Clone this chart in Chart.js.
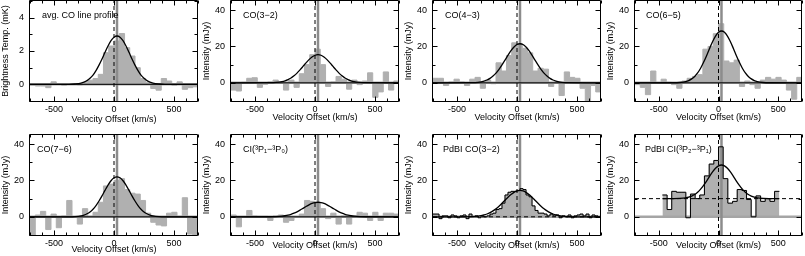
<!DOCTYPE html>
<html><head><meta charset="utf-8">
<script src="https://cdn.jsdelivr.net/npm/chart.js@4.4.1/dist/chart.umd.min.js"></script>
<style>
html,body{margin:0;padding:0;background:#fff}
#wrap{position:relative;width:805px;height:256px;overflow:hidden;background:#fff}
#wrap canvas{position:absolute}
</style></head><body><div id="wrap"></div>
<script>
// ---------------- DATA ----------------
// bin edges (km/s) of the single-dish spectra
const binEdges = [-700, -656, -613, -569, -525, -481, -438, -394, -350, -306, -263, -219, -175, -131, -88, -44, 0, 44, 88, 131, 175, 219, 263, 306, 350, 394, 438, 481, 525, 569, 613, 656, 700];
const pdbiCOEdges = [-700, -675, -650, -625, -600, -575, -550, -525, -500, -475, -450, -425, -400, -375, -350, -325, -300, -275, -250, -225, -200, -175, -150, -125, -100, -75, -50, -25, 0, 25, 50, 75, 100, 125, 150, 175, 200, 225, 250, 275, 300, 325, 350, 375, 400, 425, 450, 475, 500, 525, 550, 575, 600, 625, 650, 675, 700];
const pdbiCIEdges = [-470, -431, -392, -353, -314, -274, -235, -196, -157, -118, -78, -39, 0, 39, 78, 118, 157, 196, 235, 274, 314, 353, 392, 431, 470, 510];

// channel values
const avgCO = [-0.05, -0.1, -0.1, -0.2, 0.15, 0.0, -0.05, 0.0, 0.02, -0.03, 0.1, 0.25, 0.35, 0.6, 1.9, 2.3, 2.6, 3.05, 2.2, 1.7, 1.0, 0.35, 0.1, -0.25, -0.35, 0.35, 0.2, -0.05, 0.15, -0.3, -0.2, -0.15];
const co32 = [-4, -4.5, 0.3, 2.5, 2.8, -2.5, -0.8, 0.5, 1.5, 0.5, -4, 1.5, -2.5, 5, 10, 15.5, 18.5, 10, -2, 0.5, 3.5, 2, -3.5, 1.5, -1, 1, 5.5, -8, -5, 6, -4, 1];
const co43 = [2.5, 2.5, -1.5, 0.5, 2, 0.5, -1.5, 2, 3, -3, 1.5, -0.5, 11, 6.5, 15, 22, 21.5, 19, 16.5, 6.5, 8, 7.5, -2, 0.5, -7, 6, 3, 2.5, -3, -10, -1.5, -5];
const co65 = [-1, -2.5, -6.5, 6.5, 0, 2, 0.3, -1, -3, 1, 2.5, 3.5, 4.5, 18.5, 20, 27, 32.5, 12, 11, 12.5, -2, 1, -1, -3, 1.5, 3, 2, 3, 1.5, -4, -9, 3];
const co76 = [-10, 1, 3, -7, 1.5, -6, 0.5, 9, 0, -4, 4.5, 0.3, 2.5, 8, 17, 18, 20, 21, 15, 13, 12.5, 9, 2, -3, -4.5, -5, 2, 2.5, 0.3, 10.5, -9.5, -10];
const ci10 = [1, -5.5, 0, 3.5, 0.5, 0.3, 0.3, -2, 0.5, 1, -3, -2, 0, 1.5, 9, 8.5, 8, 4.5, -1, 2, -4, 0.5, -4, 0.5, 2.5, 2, -2, 2.5, -2, 2, 2, 1.5];
const pdbiCO32 = [1.5, 1.5, -1, 0.5, 0.5, -0.5, 1, 0.5, -0.5, 0.5, 1, -1, 1.5, 0, 0.5, -0.5, 0.5, 0, 0.5, 1.5, 2, 4, 4.5, 7.5, 12, 13.5, 14, 14, 14.5, 15.5, 15, 12, 11, 6, 3.5, 2, 2, 1.5, 0.5, 1.5, 0.5, 1, -0.5, 0.5, 0, 1, -0.5, 0.5, 1, 1.5, 0.5, 1.5, -0.5, 1, 0.5, 0];
const pdbiCI21 = [12, 4, 14, 13.5, 13.5, -0.5, 12.5, 10, 12, 22.5, 29, 31, 38.5, 21, 7.5, 8.5, 15, 14.5, 9.5, 0, 11.5, 8.5, 10, 8.5, 14];

// Gaussian fit curves
const fitV  = [-700, -375, -325, -275, -250, -225, -200, -175, -150, -125, -100, -75, -50, -25, 0, 25, 50, 75, 100, 125, 150, 175, 200, 225, 250, 275, 300, 325, 375, 425, 700];
const fitV8 = [-470, -375, -325, -275, -250, -225, -200, -175, -150, -125, -100, -75, -50, -25, 0, 25, 50, 75, 100, 125, 150, 175, 200, 225, 250, 275, 300, 325, 375, 425, 510];
const fitAvg  = [0, 0, 0.02, 0.07, 0.13, 0.22, 0.36, 0.55, 0.82, 1.15, 1.52, 1.92, 2.30, 2.62, 2.83, 2.90, 2.83, 2.62, 2.30, 1.92, 1.52, 1.15, 0.82, 0.55, 0.36, 0.22, 0.13, 0.07, 0.02, 0, 0];
const fitCO32 = [0, 0.06, 0.22, 0.68, 1.12, 1.77, 2.67, 3.86, 5.35, 7.10, 9.01, 10.96, 12.76, 14.21, 15.17, 15.5, 15.17, 14.21, 12.76, 10.96, 9.01, 7.10, 5.35, 3.86, 2.67, 1.77, 1.12, 0.68, 0.22, 0.06, 0];
const fitCO43 = [0, 0.09, 0.30, 0.95, 1.55, 2.45, 3.70, 5.35, 7.42, 9.85, 12.49, 15.20, 17.69, 19.72, 21.05, 21.5, 21.05, 19.72, 17.69, 15.20, 12.49, 9.85, 7.42, 5.35, 3.70, 2.45, 1.55, 0.95, 0.30, 0.09, 0];
const fitCO65 = [0, 0.03, 0.17, 0.68, 1.25, 2.17, 3.51, 5.44, 8.04, 11.26, 14.93, 18.87, 22.60, 25.71, 27.79, 28.5, 27.79, 25.71, 22.60, 18.87, 14.93, 11.26, 8.04, 5.44, 3.51, 2.17, 1.25, 0.68, 0.17, 0.03, 0];
const fitCO76 = [0, 0.02, 0.13, 0.53, 0.97, 1.67, 2.71, 4.20, 6.20, 8.69, 11.53, 14.56, 17.45, 19.84, 21.45, 22, 21.45, 19.84, 17.45, 14.56, 11.53, 8.69, 6.20, 4.20, 2.71, 1.67, 0.97, 0.53, 0.13, 0.02, 0];
const fitCI10 = [0, 0.03, 0.11, 0.35, 0.58, 0.91, 1.38, 1.99, 2.76, 3.66, 4.65, 5.66, 6.58, 7.34, 7.83, 8, 7.83, 7.34, 6.58, 5.66, 4.65, 3.66, 2.76, 1.99, 1.38, 0.91, 0.58, 0.35, 0.11, 0.03, 0];
const fitPdbiCO = [0, 0.13, 0.39, 1.02, 1.55, 2.28, 3.25, 4.44, 5.86, 7.45, 9.14, 10.79, 12.28, 13.47, 14.24, 14.5, 14.24, 13.47, 12.28, 10.79, 9.14, 7.45, 5.86, 4.44, 3.25, 2.28, 1.55, 1.02, 0.39, 0.13, 0];
const fitPdbiCI = [10, 10.02, 10.11, 10.44, 10.81, 11.41, 12.28, 13.53, 15.22, 17.31, 19.69, 22.25, 24.67, 26.69, 28.04, 28.5, 28.04, 26.69, 24.67, 22.25, 19.69, 17.31, 15.22, 13.53, 12.28, 11.41, 10.81, 10.44, 10.11, 10.02, 10];

// tick labels
const xTicks = [-500, 0, 500];
const yTicksMK = [0, 2, 4];
const yTicksMJy = [0, 20, 40];

// reference velocities / levels
const systemicV = 0;       // dashed vertical line
const lineCentreV = 25;    // grey vertical line
const pdbiContinuum = 10;  // continuum level of PdBI CI(2-1)

const panelLabels = ['avg. CO line profile', 'CO(3\u22122)', 'CO(4\u22123)', 'CO(6\u22125)', 'CO(7\u22126)', 'CI(\u00B3P\u2081\u2212\u00B3P\u2080)', 'PdBI CO(3\u22122)', 'PdBI CI(\u00B3P\u2082\u2212\u00B3P\u2081)'];

// ---------------- CHARTS ----------------
Chart.defaults.font.family = "'Liberation Sans', Arial, Helvetica, sans-serif";
Chart.defaults.font.size = 9;
Chart.defaults.color = '#000';

const FILL = 'rgb(176,176,176)';
const GREY_LINE = 'rgb(140,140,140)';
const GREY_ZERO = 'rgb(165,165,165)';

const panels = [
  {edges: binEdges, hist: avgCO, fitX: fitV, fit: fitAvg, y: [-1, 5], yTicks: yTicksMK, yMinor: 1, yMajor: 2, yTitle: 'Brightness Temp. (mK)', base: 0, pdbi: false, dx: 12},
  {edges: binEdges, hist: co32, fitX: fitV, fit: fitCO32, y: [-10, 45], yTicks: yTicksMJy, yMinor: 10, yMajor: 20, yTitle: 'Intensity (mJy)', base: 0, pdbi: false, dx: 12},
  {edges: binEdges, hist: co43, fitX: fitV, fit: fitCO43, y: [-10, 45], yTicks: yTicksMJy, yMinor: 10, yMajor: 20, yTitle: 'Intensity (mJy)', base: 0, pdbi: false, dx: 12},
  {edges: binEdges, hist: co65, fitX: fitV, fit: fitCO65, y: [-10, 45], yTicks: yTicksMJy, yMinor: 10, yMajor: 20, yTitle: 'Intensity (mJy)', base: 0, pdbi: false, dx: 11},
  {edges: binEdges, hist: co76, fitX: fitV, fit: fitCO76, y: [-10, 45], yTicks: yTicksMJy, yMinor: 10, yMajor: 20, yTitle: 'Intensity (mJy)', base: 0, pdbi: false, dx: 7},
  {edges: binEdges, hist: ci10, fitX: fitV, fit: fitCI10, y: [-10, 45], yTicks: yTicksMJy, yMinor: 10, yMajor: 20, yTitle: 'Intensity (mJy)', base: 0, pdbi: false, dx: 12},
  {edges: pdbiCOEdges, hist: pdbiCO32, fitX: fitV, fit: fitPdbiCO, y: [-10, 45], yTicks: yTicksMJy, yMinor: 10, yMajor: 20, yTitle: 'Intensity (mJy)', base: 0, pdbi: true, dx: 10},
  {edges: pdbiCIEdges, hist: pdbiCI21, fitX: fitV8, fit: fitPdbiCI, y: [-10, 45], yTicks: yTicksMJy, yMinor: 10, yMajor: 20, yTitle: 'Intensity (mJy)', base: pdbiContinuum, pdbi: true, dx: 10}
];

const frameTicks = {
  id: 'frameTicks',
  afterDatasetsDraw(chart, args, o) {
    const {ctx, chartArea: a, scales: {x, y}} = chart;
    const l = Math.round(a.left) - 0.5, r = Math.round(a.right) - 0.5;
    const t = Math.round(a.top) - 0.5, b = Math.round(a.bottom) + 0.5;
    ctx.save();
    ctx.strokeStyle = '#000'; ctx.lineWidth = 1; ctx.setLineDash([]);
    ctx.beginPath();
    ctx.rect(l, t, r - l, b - t);
    for (let v = x.min; v <= x.max; v += o.xMinor) {
      const px = Math.round(x.getPixelForValue(v)) + 0.5;
      const len = (v % o.xMajor === 0) ? 5 : 3;
      ctx.moveTo(px, b); ctx.lineTo(px, b - len);
      ctx.moveTo(px, t); ctx.lineTo(px, t + len);
    }
    for (let v = y.min; v <= y.max + 1e-9; v += o.yMinor) {
      const py = Math.round(y.getPixelForValue(v)) + 0.5;
      const len = (Math.abs(v % o.yMajor) < 1e-9) ? 5 : 3;
      ctx.moveTo(l, py); ctx.lineTo(l + len, py);
      ctx.moveTo(r, py); ctx.lineTo(r - len, py);
    }
    ctx.stroke();
    ctx.restore();
  }
};

const panelLabel = {
  id: 'panelLabel',
  afterDraw(chart, args, o) {
    const {ctx, chartArea: a} = chart;
    ctx.save();
    ctx.font = "9px 'Liberation Sans', Arial, Helvetica, sans-serif";
    ctx.fillStyle = '#000';
    ctx.textBaseline = 'middle';
    ctx.textAlign = 'left';
    ctx.fillText(o.text, a.left + o.dx, a.top + o.dy);
    ctx.restore();
  }
};

const wrap = document.getElementById('wrap');
const colLeft = [0, 201, 403, 605];
const colPadRight = [2, 2, 2, 3];
const rowTop = [0, 128];
const rowPadTop = [1, 7];
const rowXAxisH = [27, 21];
const xTitlePad = [[2.6, 5.1, 5.1, 5.1], [0.8, 4.6, 4.6, 4.6]];

panels.forEach((p, i) => {
  const col = i % 4, row = Math.floor(i / 4);
  const cv = document.createElement('canvas');
  cv.width = 200; cv.height = 128;
  cv.style.left = colLeft[col] + 'px';
  cv.style.top = rowTop[row] + 'px';
  wrap.appendChild(cv);
  const [yMin, yMax] = p.y;
  const xMin = -700, xMax = 700;

  const histData = p.edges.map((e, k) => ({x: e, y: p.hist[Math.min(k, p.hist.length - 1)]}));
  const fitData = p.fitX.map((v, k) => ({x: v, y: p.fit[k]}));

  const datasets = [
    {data: fitData, borderColor: '#000', borderWidth: 1.3, cubicInterpolationMode: 'monotone', fill: false, order: 1},
    {data: [{x: xMin, y: p.base}, {x: xMax, y: p.base}], borderColor: '#000', borderWidth: 1, borderDash: p.pdbi ? [4, 3] : [], fill: false, order: 3},
    {data: [{x: systemicV, y: yMin}, {x: systemicV, y: yMax}], borderColor: '#000', borderWidth: 1, borderDash: [4, 3], fill: false, order: 4},
    {data: [{x: lineCentreV, y: yMin}, {x: lineCentreV, y: yMax}], borderColor: GREY_LINE, borderWidth: 2.5, fill: false, order: 5},
    {data: [{x: xMin, y: 0}, {x: xMax, y: 0}], borderColor: GREY_ZERO, borderWidth: 2.5, fill: false, order: 6},
    {data: histData, stepped: true, fill: 'origin', backgroundColor: FILL, borderColor: FILL, borderWidth: 1, order: 7}
  ];
  if (p.pdbi) {
    datasets.push({data: histData, stepped: true, fill: false, borderColor: '#000', borderWidth: 1, order: 2});
  }

  new Chart(cv, {
    type: 'line',
    data: {datasets},
    options: {
      responsive: false, animation: false, devicePixelRatio: 1,
      layout: {padding: {left: 0, right: colPadRight[col], top: rowPadTop[row], bottom: 0}},
      elements: {point: {radius: 0, hoverRadius: 0}, line: {tension: 0}},
      events: [],
      plugins: {
        legend: {display: false}, tooltip: {enabled: false},
        frameTicks: {xMinor: 100, xMajor: 500, yMinor: p.yMinor, yMajor: p.yMajor},
        panelLabel: {text: panelLabels[i], dx: p.dx, dy: 15}
      },
      scales: {
        x: {
          type: 'linear', min: xMin, max: xMax,
          afterBuildTicks: s => { s.ticks = xTicks.map(v => ({value: v})); },
          afterFit: s => { s.height = rowXAxisH[row]; s.paddingLeft = 0; s.paddingRight = 0; },
          grid: {display: false, drawTicks: false}, border: {display: false},
          ticks: {padding: 3.6, maxRotation: 0, minRotation: 0, autoSkip: false, color: '#000', font: {size: 9}, callback: v => String(v)},
          title: {display: true, text: 'Velocity Offset (km/s)', color: '#000', font: {size: 9}, padding: {top: 0, bottom: xTitlePad[row][col]}}
        },
        y: {
          type: 'linear', min: yMin, max: yMax,
          afterBuildTicks: s => { s.ticks = p.yTicks.map(v => ({value: v})); },
          afterFit: s => { s.width = 30; s.paddingTop = 0; s.paddingBottom = 0; },
          grid: {display: false, drawTicks: false}, border: {display: false},
          ticks: {padding: 6, autoSkip: false, color: '#000', font: {size: 9}, callback: v => String(v)},
          title: {display: true, text: p.yTitle, color: '#000', font: {size: 9}, padding: {top: 0.6, bottom: 0}}
        }
      }
    },
    plugins: [frameTicks, panelLabel]
  });
});
</script>
</body></html>
